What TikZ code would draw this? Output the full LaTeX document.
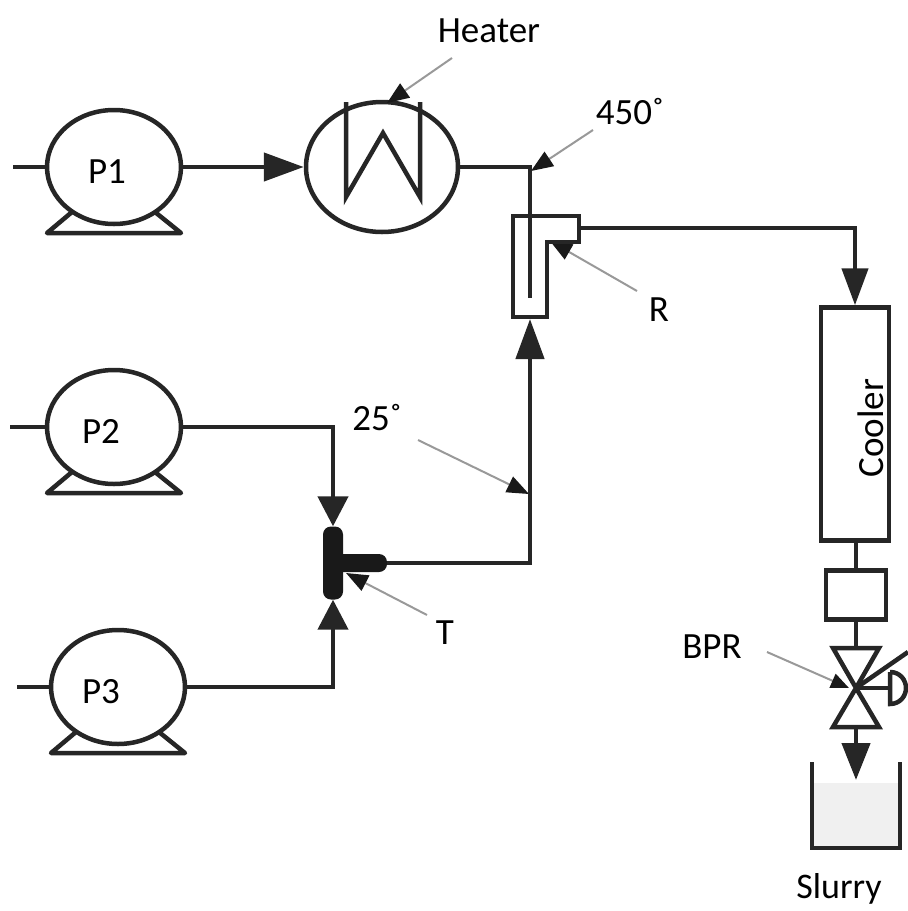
\documentclass[tikz,border=0pt]{standalone}
\usepackage{fontspec}
\setmainfont{Carlito}
\usetikzlibrary{shapes.geometric, arrows.meta, positioning, calc}

\begin{document}
\begin{tikzpicture}[
    x=1pt, y=-1pt,
    font=\fontsize{37}{42}\selectfont,
    pipe/.style={line width=4.5pt, color=black!85},
    flow/.style={pipe, -{Triangle[length=40pt, width=28pt]}},
    shortflow/.style={pipe, -{Triangle[length=30pt, width=30pt]}},
    pump/.style={draw=black!85, ellipse, fill=white, line width=4.5pt, inner sep=0pt, minimum width=134pt, minimum height=114pt},
    unit/.style={draw=black!85, fill=white, line width=4.5pt, inner sep=0pt},
    mixpart/.style={fill=black!90, rounded corners=8pt, inner sep=0pt},
    leader/.style={line width=2pt, color=black!40, -{Triangle[length=22pt, width=17pt, color=black!90, fill=black!90]}},
    lbl/.style={inner sep=0pt}
]
\useasboundingbox (0,0) rectangle (908,911);

% === PUMPS ===
\node[pump] (p1) at (114,167) {};
\node[pump] (p2) at (114,427) {};
\node[pump] (p3) at (118,687) {};
\node[lbl] (p1text) at (107,172) {P1};
\node[lbl] (p2text) at (101,431) {P2};
\node[lbl] (p3text) at (101,692) {P3};

% Pump inlets
\coordinate (p1in) at (13,167);
\coordinate (p2in) at (10,427);
\coordinate (p3in) at (17,687);
\draw[pipe] (p1in) -- (p1.west);
\draw[pipe] (p2in) -- (p2.west);
\draw[pipe] (p3in) -- (p3.west);

% Pump feet
\draw[pipe, line join=round] (72,212) -- (47,233) -- (181,233) -- (155,212);
\draw[pipe, line join=round] (72,472) -- (47,493) -- (181,493) -- (155,472);
\draw[pipe, line join=round] (76,732) -- (51,753) -- (185,753) -- (159,732);

% === HEATER ===
\node[pump, minimum width=152pt, minimum height=130pt] (heater) at (382,167) {};
\draw[pipe, line join=miter] (346,102) -- (346,197) -- (383,133) -- (420,197) -- (420,102);
\draw[flow] (p1.east) -- (heater.west);

% === LEADERS (under the units) ===
\node[lbl] (heatertext) at (489,31) {Heater};
\node[lbl] (hottext) at (630,112) {450˚};
\node[lbl] (rtext) at (659,310) {R};
\node[lbl] (coldtext) at (377,418) {25˚};
\node[lbl] (ttext) at (445,633) {T};
\node[lbl] (bprtext) at (712,647) {BPR};
\coordinate (heaterstart) at (452,58);
\coordinate (heatertip) at (387,103);
\coordinate (hotstart) at (593,130);
\coordinate (hottip) at (531,171);
\coordinate (rstart) at (637,291);
\coordinate (rtip) at (550,241);
\coordinate (coldstart) at (418,440);
\coordinate (coldtip) at (529,494);
\coordinate (tstart) at (427,615);
\coordinate (ttip) at (346,573);
\coordinate (bprstart) at (767,652);
\coordinate (bprtip) at (849,688);
\draw[leader] (heaterstart) -- (heatertip);
\draw[leader] (hotstart) -- (hottip);
\draw[leader] (rstart) -- (rtip);
\draw[leader] (coldstart) -- (coldtip);
\draw[leader] (tstart) -- (ttip);

% === REACTOR ===
\draw[unit, line join=miter] (513,216) -- (579,216) -- (579,242) -- (547,242) -- (547,317) -- (513,317) -- cycle;
\coordinate (rin) at (530,167);
\coordinate (rend) at (530,298);
\coordinate (rout) at (579,228);
\coordinate (rbot) at (530,319);
\draw[pipe] (heater.east) -- (rin) -- (rend);

% === T-MIXER ===
\node[mixpart, minimum width=20pt, minimum height=73pt] (mixv) at (333,563) {};
\node[mixpart, minimum width=54pt, minimum height=18pt] (mixh) at (360,563) {};
\draw[shortflow] (p2.east) -| (mixv.north);
\draw[shortflow] (p3.east) -| (mixv.south);
\draw[flow] (mixh.east) -| (rbot);

% === COOLER ===
\node[unit, minimum width=68pt, minimum height=233pt] (cooler) at (855,424) {};
\node[lbl, rotate=90] (coolertext) at (871,428) {Cooler};
\draw[pipe, -{Triangle[length=37pt, width=26pt]}] (rout) -| (cooler.north);

% === BPR ===
\node[unit, minimum width=60pt, minimum height=49pt] (bprbox) at (856,595) {};
\draw[pipe] (cooler.south -| bprbox.north) -- (bprbox.north);
\coordinate (vtop) at (856,648);
\coordinate (vmid) at (856,688);
\coordinate (vbot) at (856,727);
\coordinate (vlever) at (908,652);
\coordinate (vstem) at (890,688);
\draw[pipe] (bprbox.south) -- (vtop);
\draw[pipe, line join=miter] (vtop) -- ++(-23,0) -- (vmid) -- ++(23,39) -- ++(-46,0) -- (vmid) -- ++(23,-40) -- cycle;
\draw[pipe] (vmid) -- (vlever);
\draw[pipe] (vmid) -- (vstem);
\draw[pipe] (890,672) -- (890,704) .. controls (900,704) and (906,696) .. (906,688) .. controls (906,680) and (900,672) .. (890,672);
\draw[leader, -{Triangle[length=18pt, width=15pt, color=black!90, fill=black!90]}] (bprstart) -- (bprtip);

% === SLURRY ===
\fill[black!6] (814,783) rectangle (898,846);
\coordinate (beakerin) at (856,780);
\draw[pipe] (812,762) -- (812,848) -- (900,848) -- (900,762);
\draw[pipe, -{Triangle[length=37pt, width=28pt]}] (vbot) -- (beakerin);
\node[lbl, font=\fontsize{36}{40}\selectfont] (slurrytext) at (839,889) {Slurry};

\end{tikzpicture}
\end{document}
